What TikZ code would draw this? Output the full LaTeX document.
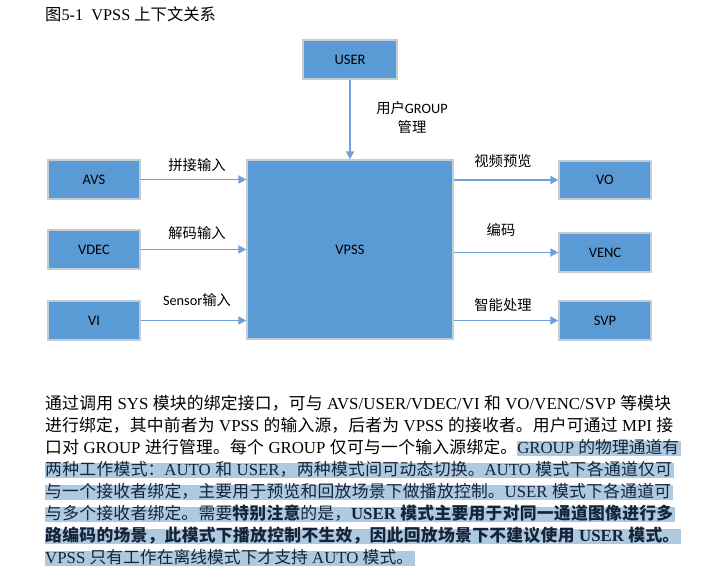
\documentclass[tikz,border=0pt]{standalone}
\usepackage{fontspec}
\setmainfont{Liberation Serif}
\newfontfamily\cjk{Noto Sans CJK SC}
\newfontfamily\diag{Carlito}
\usetikzlibrary{arrows.meta}
\definecolor{boxblue}{HTML}{5B9BD5}
\definecolor{boxedge}{HTML}{C5CCD3}
\definecolor{arrowblue}{HTML}{6FA1D9}
\definecolor{hl}{HTML}{ADCAE1}
\definecolor{hltext}{HTML}{15243A}
\XeTeXlinebreaklocale "zh"
\XeTeXlinebreakskip=0pt plus 2pt minus 0.3pt
\newcommand\zh[1]{{\cjk #1}}
\newsavebox\hlsave
\newcommand\hlrule[1]{\rlap{\color{hl}\rule[-3pt]{#1}{15pt}}}
\newcommand\hlpart[1]{\sbox\hlsave{#1}\hlrule{\dimexpr\wd\hlsave+2pt\relax}\usebox\hlsave}
\newcommand\jline[2]{\parbox[b]{#1}{\parfillskip=0pt\tolerance=10000\relax\leavevmode #2}}
\tikzset{
  blk/.style={draw=boxedge, line width=1.3pt, fill=boxblue, inner sep=0pt,
    font=\diag\fontsize{14.5}{17}\selectfont, text=black},
  lbl/.style={inner sep=0pt, font=\diag\fontsize{14.3}{19}\selectfont},
  arr/.style={draw=arrowblue, line width=1.8pt, -{Triangle[length=8pt,width=8pt]}},
  txt/.style={anchor=base west, inner sep=0pt, font=\fontsize{16.8}{20}\selectfont}
}
\begin{document}
\begin{tikzpicture}[x=1pt,y=-1pt]
\useasboundingbox (0,0) rectangle (717,580);
% title
\node[txt, font=\fontsize{16.3}{20}\selectfont] (title) at (45,20.5) {\zh{图}5-1\ \ VPSS \zh{上下文关系}};
% boxes
\node[blk, minimum width=94pt, minimum height=39pt] (user) at (350,59.5) {USER};
\node[blk, minimum width=92pt, minimum height=39pt] (avs) at (94,179.5) {AVS};
\node[blk, minimum width=92pt, minimum height=39pt] (vdec) at (94,249.5) {VDEC};
\node[blk, minimum width=92pt, minimum height=39pt] (vi) at (94,320.5) {VI};
\node[blk, minimum width=206pt, minimum height=179pt] (vpss) at (350,249.5) {VPSS};
\node[blk, minimum width=92pt, minimum height=38pt] (vo) at (605,180) {VO};
\node[blk, minimum width=92pt, minimum height=39pt] (venc) at (605,252.5) {VENC};
\node[blk, minimum width=92pt, minimum height=39pt] (svp) at (605,320.5) {SVP};
% arrows
\draw[arr] (user.south) -- (vpss.north);
\draw[arr] (avs.east) -- (avs.east -| vpss.west);
\draw[arr] (vdec.east) -- (vdec.east -| vpss.west);
\draw[arr] (vi.east) -- (vi.east -| vpss.west);
\draw[arr] (vo.west -| vpss.east) -- (vo.west);
\draw[arr] (venc.west -| vpss.east) -- (venc.west);
\draw[arr] (svp.west -| vpss.east) -- (svp.west);
% labels
\node[lbl, align=center] (luser) at (412,118) {\zh{用户}GROUP\\\zh{管理}};
\node[lbl] (lavs) at (197,165) {\zh{拼接输入}};
\node[lbl] (lvdec) at (197,233) {\zh{解码输入}};
\node[lbl] (lvi) at (197,300) {Sensor\zh{输入}};
\node[lbl] (lvo) at (503,161) {\zh{视频预览}};
\node[lbl] (lvenc) at (501,230) {\zh{编码}};
\node[lbl] (lsvp) at (503,305) {\zh{智能处理}};
% body text
\node[txt] (l1) at (45,409) {\jline{626pt}{\zh{通过调用} SYS \zh{模块的绑定接口，可与} AVS/USER/VDEC/VI \zh{和} VO/VENC/SVP \zh{等模块}}};
\node[txt] (l2) at (45,431) {\jline{628pt}{\zh{进行绑定，其中前者为} VPSS \zh{的输入源，后者为} VPSS \zh{的接收者。用户可通过} MPI \zh{接}}};
\node[txt] (l3) at (45,453) {\jline{634pt}{\zh{口对} GROUP \zh{进行管理。每个} GROUP \zh{仅可与一个输入源绑定。}\hlpart{\color{hltext}GROUP \zh{的物理通道有}}}};
\node[txt] (l4) at (45,475) {\jline{627pt}{\hlrule{629pt}\color{hltext}\zh{两种工作模式：}AUTO \zh{和} USER\zh{，两种模式间可动态切换。}AUTO \zh{模式下各通道仅可}}};
\node[txt] (l5) at (45,497) {\jline{626pt}{\hlrule{628pt}\color{hltext}\zh{与一个接收者绑定，主要用于预览和回放场景下做播放控制。}USER \zh{模式下各通道可}}};
\node[txt] (l6) at (45,519) {\jline{628pt}{\hlrule{630pt}\color{hltext}\zh{与多个接收者绑定。需要}{\bfseries\zh{特别注意}}\zh{的是，}{\bfseries USER \zh{模式主要用于对同一通道图像进行多}}}};
\node[txt] (l7) at (45,541) {\jline{634pt}{\hlrule{636pt}\color{hltext}\bfseries\zh{路编码的场景，此模式下播放控制不生效，因此回放场景下不建议使用} USER \zh{模式。}}};
\node[txt] (l8) at (45,563) {\hlpart{\color{hltext}VPSS \zh{只有工作在离线模式下才支持} AUTO \zh{模式。}}};
\end{tikzpicture}
\end{document}
